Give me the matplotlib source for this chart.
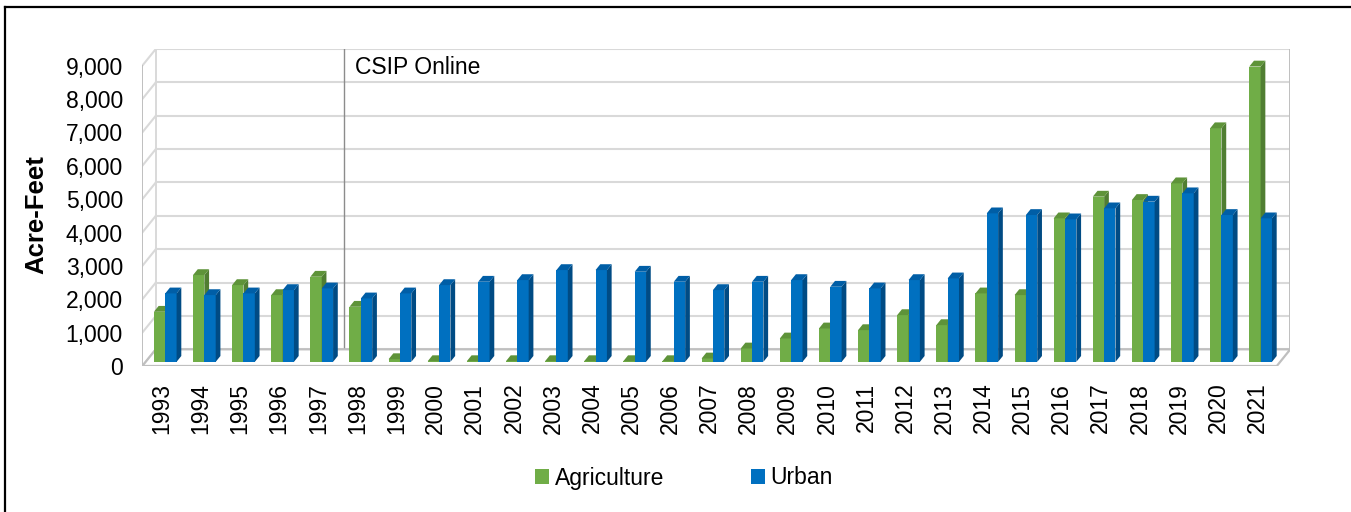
import matplotlib
matplotlib.use("Agg")
import matplotlib.pyplot as plt
from matplotlib.patches import Patch, Polygon
from matplotlib.lines import Line2D

# ---------------- data ----------------
years = [str(y) for y in range(1993, 2022)]
agriculture = [1500, 2600, 2300, 2000, 2550, 1650, 80, 20, 20, 20, 20, 20, 20, 20,
               100, 400, 700, 1000, 950, 1400, 1100, 2050, 2000, 4300, 4950, 4850,
               5350, 7000, 8850]
urban = [2050, 2000, 2050, 2150, 2200, 1900, 2050, 2300, 2400, 2450, 2750, 2750,
         2700, 2400, 2150, 2400, 2450, 2250, 2200, 2450, 2500, 4450, 4400, 4270,
         4600, 4800, 5050, 4400, 4300]
series_names = ["Agriculture", "Urban"]
y_ticks = list(range(0, 9001, 1000))
marker_label = "CSIP Online"
marker_after = "1997"

# ---------------- style ----------------
plt.rcParams["font.family"] = ["Liberation Sans", "DejaVu Sans"]
GREEN = ("#70AD47", "#507E32", "#5E9339")   # front, side, top
BLUE = ("#0070C0", "#004B84", "#005EA6")
GRID = "#D9D9D9"
EDGE = "#BFBFBF"

W, H = 1351, 512
fig = plt.figure(figsize=(W / 100, H / 100), dpi=100)
ax = fig.add_axes([142.3 / W, (H - 366) / H, (1290.3 - 142.3) / W, (366 - 49) / H])

n = len(years)
DX, DY = 0.345, 500.0          # depth of the 3D box (categories, value units)
D0, D1 = 0.25, 0.60            # depth fractions of bar front / back faces
BW = 0.29                      # bar width
ymax = y_ticks[-1]

ax.set_xlim(-0.5, n - 0.5 + DX)
ax.set_ylim(0, ymax + DY)
for s in ax.spines.values():
    s.set_visible(False)

# floor
ax.add_patch(Polygon([(-0.5, 0), (n - 0.5, 0), (n - 0.5 + DX, DY), (-0.5 + DX, DY)],
                     closed=True, fc="white", ec=EDGE, lw=1.6, zorder=1))
# back wall gridlines and left wall gridlines
for v in y_ticks:
    ax.plot([-0.5 + DX, n - 0.5 + DX], [v + DY, v + DY], color=GRID, lw=1.5, zorder=0.5)
    ax.plot([-0.5, -0.5 + DX], [v, v + DY], color=GRID, lw=1.5, zorder=0.5)
# wall edges
ax.plot([-0.5, -0.5], [0, ymax], color=EDGE, lw=1.4, zorder=0.6)
ax.plot([-0.5 + DX, -0.5 + DX], [DY, ymax + DY], color=GRID, lw=1.4, zorder=0.6)
ax.plot([n - 0.5 + DX, n - 0.5 + DX], [DY, ymax + DY], color=EDGE, lw=1.4, zorder=0.6)

# CSIP online marker line
mi = years.index(marker_after) + 0.5 + 0.45 * DX
ax.plot([mi, mi], [0.3 * DY, ymax + DY], color="#8C8C8C", lw=1.0, zorder=0.7)
ax.text(mi + 0.29, ymax - 40, marker_label, fontsize=16.5, va="center", ha="left", zorder=5)

# bars
ox, oy = (D1 - D0) * DX, (D1 - D0) * DY
base = D0 * DY
for k, (vals, cols) in enumerate([(agriculture, GREEN), (urban, BLUE)]):
    lefts = [i - BW + k * BW + D0 * DX for i in range(n)]
    ax.bar(lefts, vals, width=BW, bottom=base, align="edge", color=cols[0],
           lw=0, zorder=3 + k)
    for x0, v in zip(lefts, vals):
        x1 = x0 + BW
        top = base + v
        ax.add_patch(Polygon([(x1, base), (x1, top), (x1 + ox, top + oy), (x1 + ox, base + oy)],
                             closed=True, fc=cols[1], lw=0, zorder=3 + k))
        ax.add_patch(Polygon([(x0, top), (x1, top), (x1 + ox, top + oy), (x0 + ox, top + oy)],
                             closed=True, fc=cols[2], lw=0, zorder=3 + k))

# ticks
ax.set_yticks(y_ticks)
ax.set_yticklabels([f"{v:,}" for v in y_ticks], fontsize=16.5)
ax.set_xticks(range(n))
ax.set_xticklabels(years, rotation=90, fontsize=16.5)
ax.tick_params(axis="y", length=0, pad=14)
ax.tick_params(axis="x", length=0, pad=12)

fig.text(36 / W, 1 - 215 / H, "Acre-Feet", rotation=90, fontsize=18.5, fontweight="bold",
         ha="center", va="center")

handles = [Patch(fc=GREEN[0], ec="none"), Patch(fc=BLUE[0], ec="none")]
fig.legend(handles, series_names, loc="center", bbox_to_anchor=(684 / W, 1 - 478 / H),
           ncol=2, frameon=False, fontsize=16.5, handlelength=0.6, handleheight=0.6,
           handletextpad=0.25, columnspacing=3.8)

# outer frame (left and top)
fig.add_artist(Line2D([5 / W, 5 / W], [0, 1 - 7 / H], color="black", lw=1.6))
fig.add_artist(Line2D([5 / W, 1], [1 - 7 / H, 1 - 7 / H], color="black", lw=1.6))

fig.savefig("out.png", dpi=100)
